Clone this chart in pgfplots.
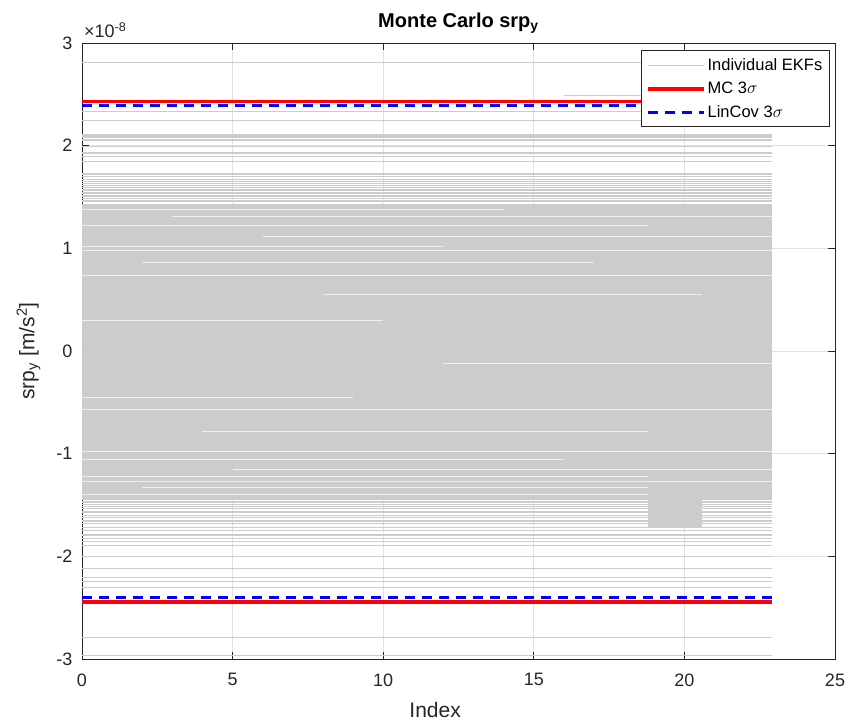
\documentclass[border=0pt]{standalone}
\usepackage{pgfplots}
\pgfplotsset{compat=1.18}
\usepackage{fontspec}
\setmainfont{Liberation Sans}
\definecolor{axgray}{RGB}{38,38,38}
\definecolor{ekf}{RGB}{204,204,204}
\definecolor{gridc}{RGB}{225,225,225}
\begin{document}
\begin{tikzpicture}[x=1pt,y=1pt]
\useasboundingbox (-82,-63) rectangle (771,659);
\begin{axis}[
  at={(0,0)}, anchor=south west,
  scale only axis, width=753pt, height=616pt,
  xmin=0, xmax=25, ymin=-3, ymax=3,
  xtick={0,5,...,25}, ytick={-3,-2,...,3},
  grid=major, grid style={gridc, line width=0.7pt},
  axis line style={axgray, line width=0.9pt},
  tick style={axgray, line width=0.9pt},
  major tick length=7pt,
  tick align=inside,
  ticklabel style={font=\fontsize{18}{21}\selectfont, text=axgray},
  xticklabel style={yshift=-11pt},
  yticklabel style={xshift=-6pt},
  /pgf/number format/assume math mode=true,
  xlabel={Index},
  ylabel={srp\textsubscript{y} [m/s\textsuperscript{2}]},
  label style={font=\fontsize{21}{24}\selectfont, text=axgray},
  xlabel style={at={(axis description cs:0.469,-0.083)}, anchor=center},
  ylabel style={at={(axis description cs:-0.071,0.5)}, anchor=center},
  title={\textbf{Monte Carlo srp\textsubscript{y}}},
  title style={font=\fontsize{20}{23}\selectfont, text=black, yshift=0pt},
  legend style={at={(rel axis cs:0.993,0.988)}, anchor=north east,
    font=\fontsize{16.5}{19}\selectfont, draw=axgray, line width=0.9pt,
    inner xsep=5pt, inner ysep=6pt, row sep=6pt},
  legend cell align=left,
  legend image code/.code={\draw[#1] (0pt,0pt) -- (56pt,0pt);},
  unbounded coords=jump,
  clip=false,
]
% dense core of the individual EKF traces
\addplot[fill=ekf, draw=none, forget plot] coordinates {(0,-1.45) (22.9,-1.45) (22.9,1.43) (0,1.43)} -- cycle;
\addplot[fill=ekf, draw=none, forget plot] coordinates {(18.8,-1.72) (20.6,-1.72) (20.6,-1.45) (18.8,-1.45)} -- cycle;
% gaps between traces in the dense core
\addplot[white, line width=0.8pt, opacity=0.7, forget plot] coordinates {
(0,1.38) (14,1.38) (nan,nan)
(3,1.31) (22.9,1.31) (nan,nan)
(0,1.22) (18.8,1.22) (nan,nan)
(6,1.12) (22.9,1.12) (nan,nan)
(0,1.02) (12,1.02) (nan,nan)
(0,0.98) (22.9,0.98) (nan,nan)
(2,0.86) (17,0.86) (nan,nan)
(0,0.74) (22.9,0.74) (nan,nan)
(8,0.55) (20.6,0.55) (nan,nan)
(0,0.30) (10,0.30) (nan,nan)
(12,-0.12) (22.9,-0.12) (nan,nan)
(0,-0.45) (9,-0.45) (nan,nan)
(0,-0.57) (22.9,-0.57) (nan,nan)
(4,-0.78) (18.8,-0.78) (nan,nan)
(0,-0.98) (22.9,-0.98) (nan,nan)
(0,-1.06) (16,-1.06) (nan,nan)
(5,-1.15) (22.9,-1.15) (nan,nan)
(0,-1.22) (18.8,-1.22) (nan,nan)
(0,-1.27) (22.9,-1.27) (nan,nan)
(2,-1.33) (18.8,-1.33) (nan,nan)
(0,-1.40) (18.8,-1.40)
};
% individual EKF traces outside the core
\addplot[ekf, line width=1pt] coordinates {
(0,2.81) (22.9,2.81) (nan,nan)
(16,2.49) (22.9,2.49) (nan,nan)
(0,2.33) (22.9,2.33) (nan,nan)
(0,2.243) (22.9,2.243) (nan,nan)
(0,2.11) (22.9,2.11) (nan,nan)
(0,2.10) (22.9,2.10) (nan,nan)
(0,2.085) (22.9,2.085) (nan,nan)
(0,2.075) (22.9,2.075) (nan,nan)
(0,2.06) (22.9,2.06) (nan,nan)
(0,2.05) (22.9,2.05) (nan,nan)
(0,1.99) (22.9,1.99) (nan,nan)
(0,1.935) (22.9,1.935) (nan,nan)
(0,1.92) (22.9,1.92) (nan,nan)
(0,1.89) (22.9,1.89) (nan,nan)
(0,1.85) (22.9,1.85) (nan,nan)
(0,1.73) (22.9,1.73) (nan,nan)
(0,1.715) (22.9,1.715) (nan,nan)
(0,1.70) (22.9,1.70) (nan,nan)
(0,1.67) (22.9,1.67) (nan,nan)
(0,1.655) (22.9,1.655) (nan,nan)
(0,1.63) (22.9,1.63) (nan,nan)
(0,1.615) (22.9,1.615) (nan,nan)
(0,1.59) (22.9,1.59) (nan,nan)
(0,1.575) (22.9,1.575) (nan,nan)
(0,1.56) (22.9,1.56) (nan,nan)
(0,1.545) (22.9,1.545) (nan,nan)
(0,1.53) (22.9,1.53) (nan,nan)
(0,1.515) (22.9,1.515) (nan,nan)
(0,1.50) (22.9,1.50) (nan,nan)
(0,1.485) (22.9,1.485) (nan,nan)
(0,1.47) (22.9,1.47) (nan,nan)
(0,1.455) (22.9,1.455) (nan,nan)
(0,-1.465) (22.9,-1.465) (nan,nan)
(0,-1.48) (22.9,-1.48) (nan,nan)
(0,-1.50) (22.9,-1.50) (nan,nan)
(0,-1.515) (22.9,-1.515) (nan,nan)
(0,-1.53) (22.9,-1.53) (nan,nan)
(0,-1.56) (22.9,-1.56) (nan,nan)
(0,-1.575) (22.9,-1.575) (nan,nan)
(0,-1.60) (22.9,-1.60) (nan,nan)
(0,-1.62) (22.9,-1.62) (nan,nan)
(0,-1.65) (22.9,-1.65) (nan,nan)
(0,-1.665) (22.9,-1.665) (nan,nan)
(0,-1.68) (22.9,-1.68) (nan,nan)
(0,-1.72) (22.9,-1.72) (nan,nan)
(0,-1.75) (22.9,-1.75) (nan,nan)
(0,-1.79) (22.9,-1.79) (nan,nan)
(0,-1.80) (22.9,-1.80) (nan,nan)
(0,-1.83) (22.9,-1.83) (nan,nan)
(0,-1.86) (22.9,-1.86) (nan,nan)
(0,-1.89) (22.9,-1.89) (nan,nan)
(0,-2.00) (22.9,-2.00) (nan,nan)
(0,-2.12) (22.9,-2.12) (nan,nan)
(0,-2.21) (22.9,-2.21) (nan,nan)
(0,-2.25) (22.9,-2.25) (nan,nan)
(0,-2.30) (22.9,-2.30) (nan,nan)
(0,-2.79) (22.9,-2.79) (nan,nan)
(0,-2.97) (22.9,-2.97)
};
\addlegendentry{Individual EKFs}
\addplot[red, line width=3.5pt] coordinates {(0,2.43) (22.9,2.43) (nan,nan) (0,-2.445) (22.9,-2.445)};
\addlegendentry{MC 3$\sigma$}
\addplot[blue, line width=3pt, dash pattern=on 10pt off 7pt] coordinates {(0,2.396) (22.9,2.396) (nan,nan) (0,-2.405) (22.9,-2.405)};
\addlegendentry{LinCov 3$\sigma$}
\node[anchor=south west, font=\fontsize{18}{21}\selectfont, text=axgray, inner sep=0pt, xshift=2pt, yshift=5pt] at (rel axis cs:0,1) {×10\textsuperscript{-8}};
\end{axis}
\end{tikzpicture}
\end{document}
